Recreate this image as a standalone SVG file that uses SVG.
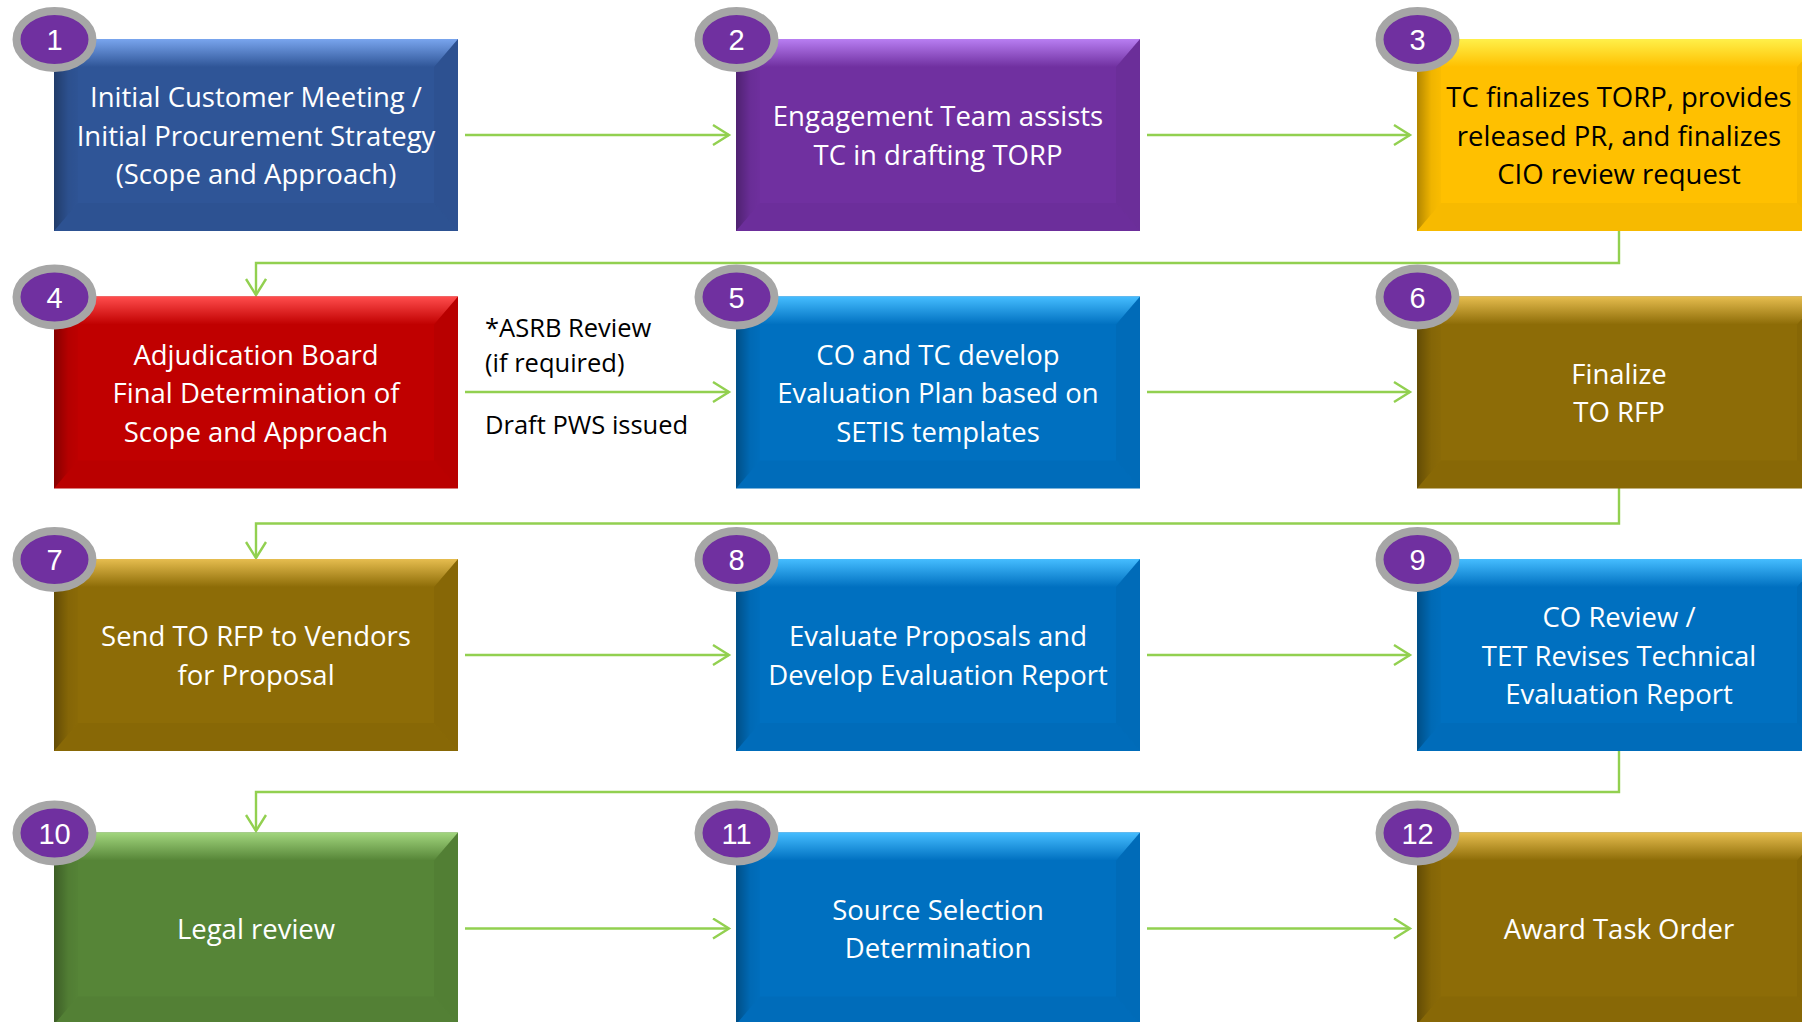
<svg xmlns="http://www.w3.org/2000/svg" xmlns:xlink="http://www.w3.org/1999/xlink" width="1802" height="1022" viewBox="0 0 1802 1022">
<style>
.lbl{font-family:"Open Sans","Liberation Sans",sans-serif;font-size:27.5px;fill:#fff;text-anchor:middle}
.dark{fill:#000}
.note{font-family:"Open Sans","Liberation Sans",sans-serif;font-size:25.5px;fill:#000}
.num{font-family:"Liberation Sans",Arial,sans-serif;font-size:29px;fill:#fff;text-anchor:middle}
.ring{fill:#7030A0;stroke:#A6A6A6;stroke-width:8}
.conn{fill:none;stroke:#92D050;stroke-width:2.4}
</style>
<defs>
<marker id="arr" markerUnits="userSpaceOnUse" markerWidth="20" markerHeight="22" viewBox="0 0 20 22" refX="17" refY="11" orient="auto">
<path d="M1,1 L17,11 L1,21" fill="none" stroke="#92D050" stroke-width="2.4"/>
</marker>
<linearGradient id="gL" x1="0" y1="0" x2="1" y2="0"><stop offset="0" stop-color="#000" stop-opacity="0.3"/><stop offset="0.6" stop-color="#000" stop-opacity="0.06"/><stop offset="1" stop-color="#000" stop-opacity="0.02"/></linearGradient>
<linearGradient id="t1" x1="0" y1="0" x2="0" y2="1"><stop offset="0" stop-color="#79A5EE"/><stop offset="1" stop-color="#2F5597"/></linearGradient>
<linearGradient id="t2" x1="0" y1="0" x2="0" y2="1"><stop offset="0" stop-color="#B87EF2"/><stop offset="1" stop-color="#7030A0"/></linearGradient>
<linearGradient id="t3" x1="0" y1="0" x2="0" y2="1"><stop offset="0" stop-color="#FFF04A"/><stop offset="1" stop-color="#FFC000"/></linearGradient>
<linearGradient id="t4" x1="0" y1="0" x2="0" y2="1"><stop offset="0" stop-color="#FF4D4D"/><stop offset="1" stop-color="#C00000"/></linearGradient>
<linearGradient id="t5" x1="0" y1="0" x2="0" y2="1"><stop offset="0" stop-color="#45BDFF"/><stop offset="1" stop-color="#0070C0"/></linearGradient>
<linearGradient id="t6" x1="0" y1="0" x2="0" y2="1"><stop offset="0" stop-color="#E6BD4F"/><stop offset="1" stop-color="#8D6C07"/></linearGradient>
<linearGradient id="t7" x1="0" y1="0" x2="0" y2="1"><stop offset="0" stop-color="#A2D67E"/><stop offset="1" stop-color="#568537"/></linearGradient>
<g id="bevel">
<path d="M0,0 L24,28 L24,164 L0,192 Z" fill="url(#gL)"/>
<path d="M404,0 L380,28 L380,164 L404,192 Z" fill="#000" fill-opacity="0.04"/>
<path d="M0,192 L24,164 L380,164 L404,192 Z" fill="#000" fill-opacity="0.03"/>
</g>
</defs>
<rect width="1802" height="1022" fill="#fff"/>

<g id="connectors">
<path class="conn" marker-end="url(#arr)" d="M465,135 H729"/>
<path class="conn" marker-end="url(#arr)" d="M1147,135 H1410"/>
<path class="conn" marker-end="url(#arr)" d="M1619,231 V263 H256 V295"/>
<path class="conn" marker-end="url(#arr)" d="M465,392 H729"/>
<path class="conn" marker-end="url(#arr)" d="M1147,392 H1410"/>
<path class="conn" marker-end="url(#arr)" d="M1619,488 V523.5 H256 V558"/>
<path class="conn" marker-end="url(#arr)" d="M465,655 H729"/>
<path class="conn" marker-end="url(#arr)" d="M1147,655 H1410"/>
<path class="conn" marker-end="url(#arr)" d="M1619,751 V792 H256 V831"/>
<path class="conn" marker-end="url(#arr)" d="M465,928.5 H729"/>
<path class="conn" marker-end="url(#arr)" d="M1147,928.5 H1410"/>
</g>

<g id="edge-labels">
<text class="note" x="485" y="337">*ASRB Review</text>
<text class="note" x="485" y="372">(if required)</text>
<text class="note" x="485" y="434">Draft PWS issued</text>
</g>

<g id="node1" transform="translate(54,39)">
<rect width="404" height="192" fill="#2F5597"/>
<path d="M0,0 H404 L380,28 H24 Z" fill="url(#t1)"/>
<use xlink:href="#bevel"/>
<text class="lbl" x="202" y="68">Initial Customer Meeting /</text>
<text class="lbl" x="202" y="106.5">Initial Procurement Strategy</text>
<text class="lbl" x="202" y="145">(Scope and Approach)</text>
<ellipse class="ring" cx="0.5" cy="0.5" rx="38" ry="28.5"/>
<text class="num" x="0.5" y="11">1</text>
</g>

<g id="node2" transform="translate(736,39)">
<rect width="404" height="192" fill="#7030A0"/>
<path d="M0,0 H404 L380,28 H24 Z" fill="url(#t2)"/>
<use xlink:href="#bevel"/>
<text class="lbl" x="202" y="87">Engagement Team assists</text>
<text class="lbl" x="202" y="125.5">TC in drafting TORP</text>
<ellipse class="ring" cx="0.5" cy="0.5" rx="38" ry="28.5"/>
<text class="num" x="0.5" y="11">2</text>
</g>

<g id="node3" transform="translate(1417,39)">
<rect width="404" height="192" fill="#FFC000"/>
<path d="M0,0 H404 L380,28 H24 Z" fill="url(#t3)"/>
<use xlink:href="#bevel"/>
<text class="lbl dark" x="202" y="68">TC finalizes TORP, provides</text>
<text class="lbl dark" x="202" y="106.5">released PR, and finalizes</text>
<text class="lbl dark" x="202" y="145">CIO review request</text>
<ellipse class="ring" cx="0.5" cy="0.5" rx="38" ry="28.5"/>
<text class="num" x="0.5" y="11">3</text>
</g>

<g id="node4" transform="translate(54,296.5)">
<rect width="404" height="192" fill="#C00000"/>
<path d="M0,0 H404 L380,28 H24 Z" fill="url(#t4)"/>
<use xlink:href="#bevel"/>
<text class="lbl" x="202" y="68">Adjudication Board</text>
<text class="lbl" x="202" y="106.5">Final Determination of</text>
<text class="lbl" x="202" y="145">Scope and Approach</text>
<ellipse class="ring" cx="0.5" cy="0.5" rx="38" ry="28.5"/>
<text class="num" x="0.5" y="11">4</text>
</g>

<g id="node5" transform="translate(736,296.5)">
<rect width="404" height="192" fill="#0070C0"/>
<path d="M0,0 H404 L380,28 H24 Z" fill="url(#t5)"/>
<use xlink:href="#bevel"/>
<text class="lbl" x="202" y="68">CO and TC develop</text>
<text class="lbl" x="202" y="106.5">Evaluation Plan based on</text>
<text class="lbl" x="202" y="145">SETIS templates</text>
<ellipse class="ring" cx="0.5" cy="0.5" rx="38" ry="28.5"/>
<text class="num" x="0.5" y="11">5</text>
</g>

<g id="node6" transform="translate(1417,296.5)">
<rect width="404" height="192" fill="#8D6C07"/>
<path d="M0,0 H404 L380,28 H24 Z" fill="url(#t6)"/>
<use xlink:href="#bevel"/>
<text class="lbl" x="202" y="87">Finalize</text>
<text class="lbl" x="202" y="125.5">TO RFP</text>
<ellipse class="ring" cx="0.5" cy="0.5" rx="38" ry="28.5"/>
<text class="num" x="0.5" y="11">6</text>
</g>

<g id="node7" transform="translate(54,559)">
<rect width="404" height="192" fill="#8D6C07"/>
<path d="M0,0 H404 L380,28 H24 Z" fill="url(#t6)"/>
<use xlink:href="#bevel"/>
<text class="lbl" x="202" y="87">Send TO RFP to Vendors</text>
<text class="lbl" x="202" y="125.5">for Proposal</text>
<ellipse class="ring" cx="0.5" cy="0.5" rx="38" ry="28.5"/>
<text class="num" x="0.5" y="11">7</text>
</g>

<g id="node8" transform="translate(736,559)">
<rect width="404" height="192" fill="#0070C0"/>
<path d="M0,0 H404 L380,28 H24 Z" fill="url(#t5)"/>
<use xlink:href="#bevel"/>
<text class="lbl" x="202" y="87">Evaluate Proposals and</text>
<text class="lbl" x="202" y="125.5">Develop Evaluation Report</text>
<ellipse class="ring" cx="0.5" cy="0.5" rx="38" ry="28.5"/>
<text class="num" x="0.5" y="11">8</text>
</g>

<g id="node9" transform="translate(1417,559)">
<rect width="404" height="192" fill="#0070C0"/>
<path d="M0,0 H404 L380,28 H24 Z" fill="url(#t5)"/>
<use xlink:href="#bevel"/>
<text class="lbl" x="202" y="68">CO Review /</text>
<text class="lbl" x="202" y="106.5">TET Revises Technical</text>
<text class="lbl" x="202" y="145">Evaluation Report</text>
<ellipse class="ring" cx="0.5" cy="0.5" rx="38" ry="28.5"/>
<text class="num" x="0.5" y="11">9</text>
</g>

<g id="node10" transform="translate(54,832.5)">
<rect width="404" height="192" fill="#568537"/>
<path d="M0,0 H404 L380,28 H24 Z" fill="url(#t7)"/>
<use xlink:href="#bevel"/>
<text class="lbl" x="202" y="106.5">Legal review</text>
<ellipse class="ring" cx="0.5" cy="0.5" rx="38" ry="28.5"/>
<text class="num" x="0.5" y="11">10</text>
</g>

<g id="node11" transform="translate(736,832.5)">
<rect width="404" height="192" fill="#0070C0"/>
<path d="M0,0 H404 L380,28 H24 Z" fill="url(#t5)"/>
<use xlink:href="#bevel"/>
<text class="lbl" x="202" y="87">Source Selection</text>
<text class="lbl" x="202" y="125.5">Determination</text>
<ellipse class="ring" cx="0.5" cy="0.5" rx="38" ry="28.5"/>
<text class="num" x="0.5" y="11">11</text>
</g>

<g id="node12" transform="translate(1417,832.5)">
<rect width="404" height="192" fill="#8D6C07"/>
<path d="M0,0 H404 L380,28 H24 Z" fill="url(#t6)"/>
<use xlink:href="#bevel"/>
<text class="lbl" x="202" y="106.5">Award Task Order</text>
<ellipse class="ring" cx="0.5" cy="0.5" rx="38" ry="28.5"/>
<text class="num" x="0.5" y="11">12</text>
</g>
</svg>
